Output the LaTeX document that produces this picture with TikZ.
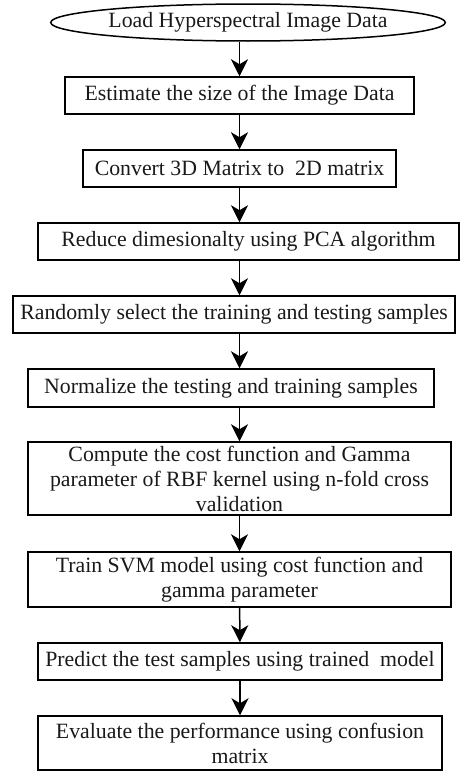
\documentclass[tikz,border=0pt]{standalone}
\usepackage{fontspec}
\setmainfont{Liberation Serif}
\usetikzlibrary{shapes.geometric,arrows.meta}
\begin{document}
\begin{tikzpicture}[x=1pt,y=-1pt,
  every node/.style={font=\fontsize{21.8}{25}\selectfont, inner sep=0pt, line width=1.5pt, draw=black, text=black!90},
  stepbox/.style={rectangle, align=center},
  conn/.style={line width=1.5pt, draw=black, -{Stealth[length=17pt,width=17pt,inset=5pt]}}]
\useasboundingbox (0,0) rectangle (463,771);
\node[ellipse, minimum width=368pt, minimum height=37pt] (e) at (248,22.5) {Load Hyperspectral Image Data};
\node[stepbox, minimum width=349pt, minimum height=37pt] (b1) at (239.5,95.5) {Estimate the size of the Image Data};
\node[stepbox, minimum width=313pt, minimum height=37pt] (b2) at (239.5,168.5) {Convert 3D Matrix to \ 2D matrix};
\node[stepbox, minimum width=421pt, minimum height=37pt] (b3) at (248.5,241.5) {Reduce dimesionalty using PCA algorithm};
\node[stepbox, minimum width=442pt, minimum height=37pt] (b4) at (234,314.5) {Randomly select the training and testing samples};
\node[stepbox, minimum width=406pt, minimum height=38pt] (b5) at (231,388) {Normalize the testing and training samples};
\node[stepbox, minimum width=423pt, minimum height=73pt] (b6) at (239.5,478.5) {Compute the cost function and Gamma\\parameter of RBF kernel using n-fold cross\\validation};
\node[stepbox, minimum width=423pt, minimum height=55pt] (b7) at (239.5,579.5) {Train SVM model using cost function and\\gamma parameter};
\node[stepbox, minimum width=404pt, minimum height=37pt] (b8) at (240,661.5) {Predict the test samples using trained \ model};
\node[stepbox, minimum width=404pt, minimum height=54pt] (b9) at (240,743) {Evaluate the performance using confusion\\matrix};
\draw[conn] (e.south -| b1.north) -- (b1.north);
\draw[conn] (b1) -- (b2);
\draw[conn] (b2.south) -- (b2.south |- b3.north);
\draw[conn] (b3.south -| b2.south) -- (b2.south |- b4.north);
\draw[conn] (b4.south -| b2.south) -- (b2.south |- b5.north);
\draw[conn] (b5.south -| b2.south) -- (b2.south |- b6.north);
\draw[conn] (b6) -- (b7);
\draw[conn] (b7) -- (b8);
\draw[conn] (b8) -- (b9);
\end{tikzpicture}
\end{document}
